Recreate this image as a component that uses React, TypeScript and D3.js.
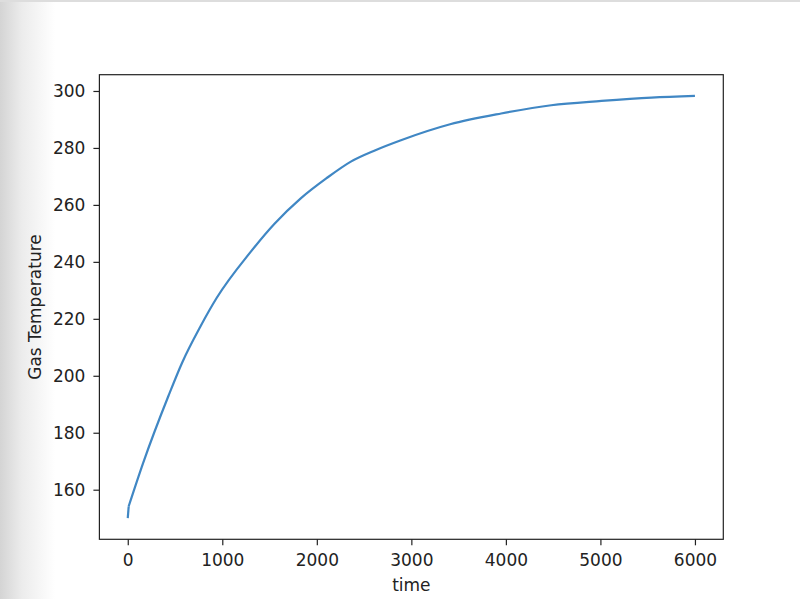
import React, { useEffect, useRef } from 'react';
import * as d3 from 'd3';

// Gas temperature
const times = [0, 10, 165, 430, 575, 770, 940, 1300, 1550, 1830, 2100, 2360, 2620, 2890, 3410, 3950, 4480, 5010, 5540, 6000];
const gasTemps = [150, 154.2, 169.6, 192.9, 204.6, 217.4, 227.3, 243.5, 253.3, 262.3, 269.3, 275.2, 279.2, 282.7, 288.3, 292.1, 295, 296.5, 297.7, 298.3];
const xTicks = [0, 1000, 2000, 3000, 4000, 5000, 6000];
const yTicks = [160, 180, 200, 220, 240, 260, 280, 300];

export default function App() {
  const svgRef = useRef<SVGSVGElement>(null);

  useEffect(() => {
    if (!svgRef.current) return;
    const svg = d3.select(svgRef.current);
    svg.selectAll('*').remove();

    const W = 800;
    const H = 599;
    const margin = { top: 74.7, right: 76.7, bottom: 59.7, left: 99.4 };
    const width = W - margin.left - margin.right;
    const height = H - margin.top - margin.bottom;
    const font = 'DejaVu Sans, sans-serif';
    const fontSize = 17;

    // page chrome: faint left shadow and top rule
    const defs = svg.append('defs');
    const grad = defs.append('linearGradient').attr('id', 'shade').attr('x1', 0).attr('x2', 1);
    grad.append('stop').attr('offset', 0).attr('stop-color', '#d4d4d4');
    grad.append('stop').attr('offset', 0.4).attr('stop-color', '#ececec');
    grad.append('stop').attr('offset', 1).attr('stop-color', '#ffffff');
    svg.append('rect').attr('width', W).attr('height', H).attr('fill', '#fff');
    svg.append('rect').attr('x', 0).attr('y', 0).attr('width', 55).attr('height', H).attr('fill', 'url(#shade)');
    svg.append('line').attr('x1', 0).attr('x2', W).attr('y1', 1).attr('y2', 1)
      .attr('stroke', '#dddddd').attr('stroke-width', 2);

    const data = times.map((t, i) => ({ t, v: gasTemps[i] }));

    // matplotlib-style 5% margins
    const xPad = (6000 - 0) * 0.05;
    const yMin = d3.min(gasTemps) || 0;
    const yMax = d3.max(gasTemps) || 0;
    const yPad = (yMax - yMin) * 0.05;

    const x = d3.scaleLinear().domain([0 - xPad, 6000 + xPad]).range([0, width]);
    const y = d3.scaleLinear().domain([yMin - yPad, yMax + yPad]).range([height, 0]);

    const g = svg.append('g').attr('transform', `translate(${margin.left},${margin.top})`);

    // the first tiny step is straight, the rest is smooth
    const straight = d3.line<{ t: number; v: number }>()
      .x(d => x(d.t))
      .y(d => y(d.v));
    const smooth = d3.line<{ t: number; v: number }>()
      .x(d => x(d.t))
      .y(d => y(d.v))
      .curve(d3.curveMonotoneX);

    [straight(data.slice(0, 2)), smooth(data.slice(1))].forEach(d => {
      g.append('path')
        .attr('fill', 'none')
        .attr('stroke', '#4087c4')
        .attr('stroke-width', 2.2)
        .attr('stroke-linejoin', 'round')
        .attr('d', d);
    });

    const xAxis = g.append('g')
      .attr('transform', `translate(0,${height})`)
      .call(d3.axisBottom(x).tickValues(xTicks).tickSize(6).tickPadding(9).tickFormat(d3.format('d')));
    const yAxis = g.append('g')
      .call(d3.axisLeft(y).tickValues(yTicks).tickSize(6).tickPadding(8).tickFormat(d3.format('d')));

    [xAxis, yAxis].forEach(a => {
      a.select('.domain').remove();
      a.selectAll('line').attr('stroke', '#222').attr('stroke-width', 1.2);
      a.selectAll('text').attr('font-family', font).attr('font-size', fontSize).attr('fill', '#222');
    });

    // frame
    g.append('rect')
      .attr('width', width)
      .attr('height', height)
      .attr('fill', 'none')
      .attr('stroke', '#222')
      .attr('stroke-width', 1.2);

    g.append('text')
      .attr('x', width / 2)
      .attr('y', height + 52)
      .attr('text-anchor', 'middle')
      .attr('font-family', font)
      .attr('font-size', fontSize)
      .attr('fill', '#222')
      .text('time');

    g.append('text')
      .attr('transform', `translate(${-58},${height / 2}) rotate(-90)`)
      .attr('text-anchor', 'middle')
      .attr('font-family', font)
      .attr('font-size', fontSize)
      .attr('fill', '#222')
      .text('Gas Temperature');
  }, []);

  return (
    <svg
      ref={svgRef}
      width={800}
      height={599}
      style={{ position: 'absolute', left: 0, top: 0, display: 'block' }}
    />
  );
}
